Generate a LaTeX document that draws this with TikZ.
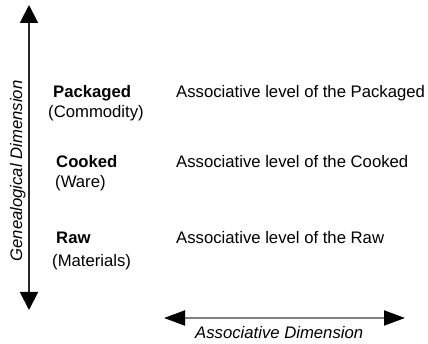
\documentclass[tikz,border=0pt]{standalone}
\usepackage{fontspec}
\setmainfont{Liberation Sans}
\usetikzlibrary{arrows.meta}

\begin{document}
\begin{tikzpicture}[x=1pt, y=1pt,
    every node/.style={inner sep=0pt, font=\fontsize{16.7}{20}\selectfont},
    level/.style={anchor=base west, font=\fontsize{16.7}{20}\selectfont\bfseries},
    kind/.style={anchor=base west},
    axislabel/.style={font=\fontsize{16.7}{20}\selectfont\itshape},
    genaxis/.style={line width=2pt, black!85, {Triangle[length=18pt, width=18pt, color=black]}-{Triangle[length=18pt, width=18pt, color=black]}},
    assaxis/.style={line width=2pt, black!50, {Triangle[length=21pt, width=15pt, color=black]}-{Triangle[length=21pt, width=15pt, color=black]}}]
  \useasboundingbox (0,0) rectangle (428,344);

  % genealogical axis
  \coordinate (gentop) at (29,339);
  \coordinate (genbot) at (29,34);
  \draw[genaxis] (gentop) -- (genbot);
  \node[axislabel, rotate=90, anchor=base] (genlabel) at (22,173) {Genealogical Dimension};

  % levels
  \node[level] (pkg) at (53,246) {Packaged};
  \node[kind] (pkgsub) at (48,226) {(Commodity)};
  \node[level] (cook) at (56,176) {Cooked};
  \node[kind] (cooksub) at (55,156) {(Ware)};
  \node[level] (raw) at (56,100) {Raw};
  \node[kind] (rawsub) at (52,77) {(Materials)};

  \node[kind] (pkglvl) at (176,246) {Associative level of the Packaged};
  \node[kind] (cooklvl) at (176,176) {Associative level of the Cooked};
  \node[kind] (rawlvl) at (176,100) {Associative level of the Raw};

  % associative axis
  \coordinate (assleft) at (164,26);
  \coordinate (assright) at (405,26);
  \draw[assaxis] (assleft) -- (assright);
  \node[axislabel, anchor=base west] (asslabel) at (195,5) {Associative Dimension};
\end{tikzpicture}
\end{document}
